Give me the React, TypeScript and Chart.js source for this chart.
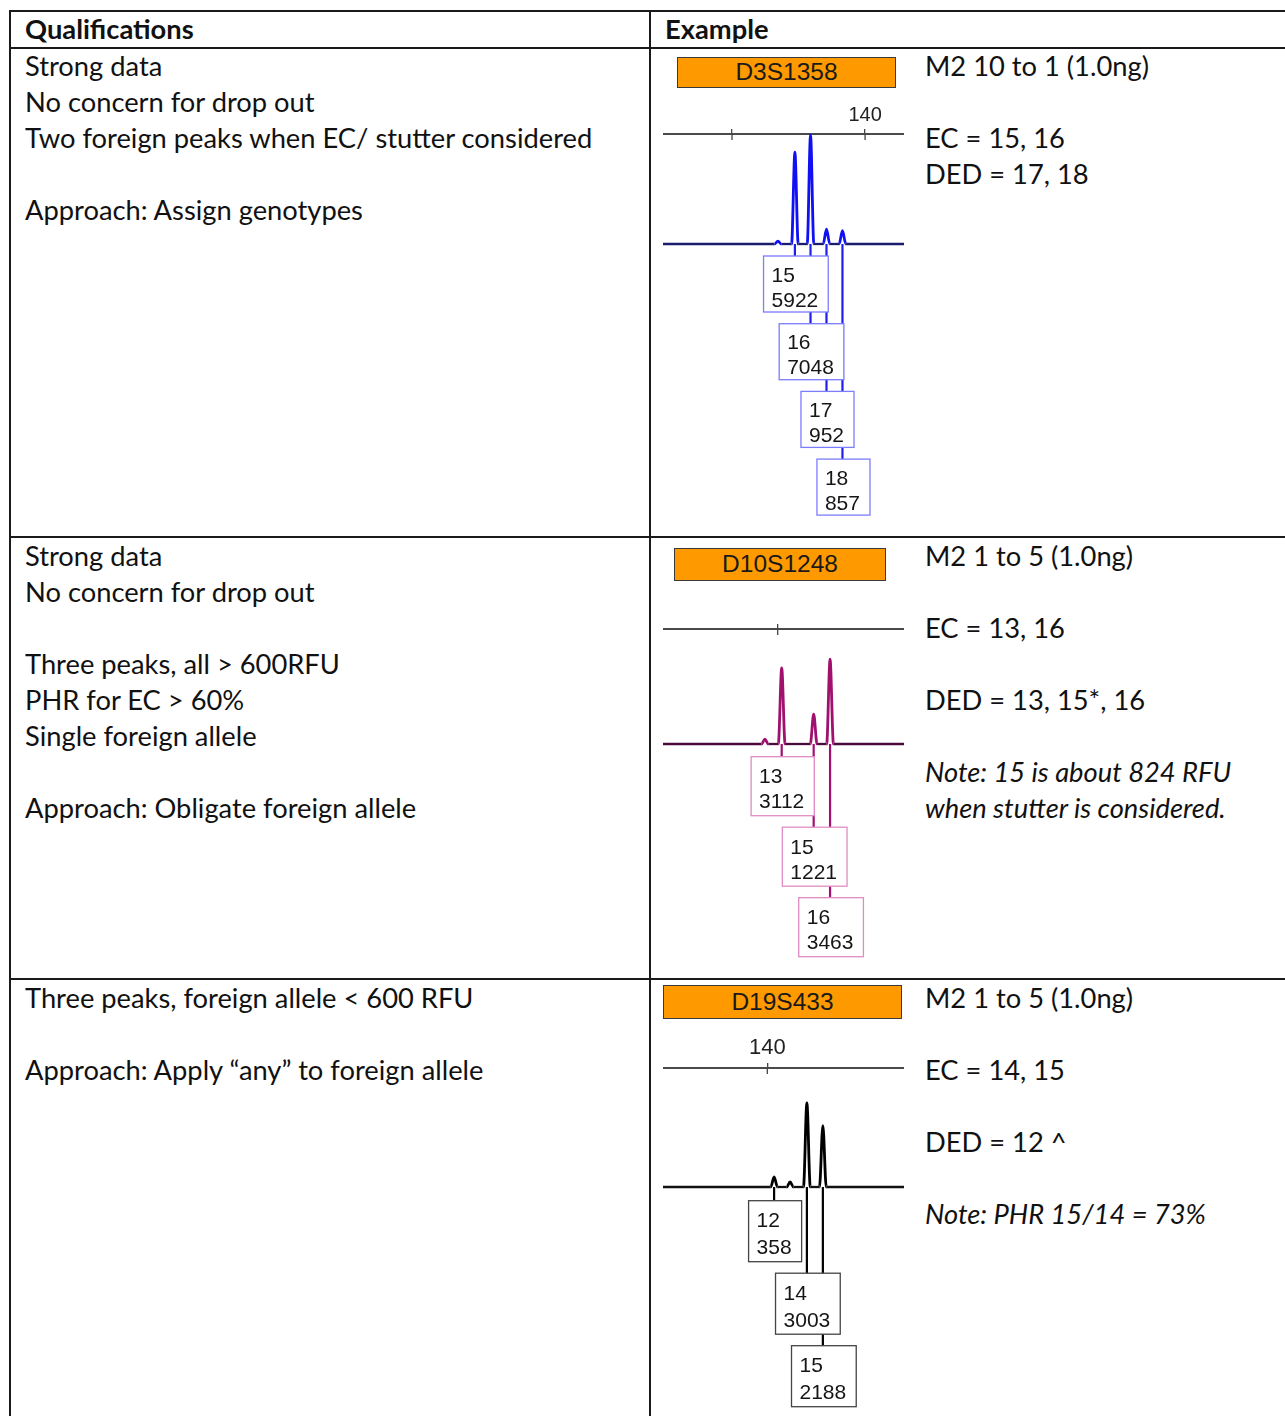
import React, { useEffect, useRef } from "react";
import { Chart, registerables } from "chart.js";

Chart.register(...registerables);

// ---------------- DATA ----------------
const headers = ["Qualifications", "Example"];

const row1Qualifications = [
  "Strong data",
  "No concern for drop out",
  "Two foreign peaks when EC/ stutter considered",
  "",
  "Approach: Assign genotypes",
];
const row1Notes = ["M2 10 to 1 (1.0ng)", "", "EC = 15, 16", "DED = 17, 18"];

const row2Qualifications = [
  "Strong data",
  "No concern for drop out",
  "",
  "Three peaks, all > 600RFU",
  "PHR for EC > 60%",
  "Single foreign allele",
  "",
  "Approach: Obligate foreign allele",
];
const row2Notes = [
  "M2 1 to 5 (1.0ng)",
  "",
  "EC = 13, 16",
  "",
  "DED = 13, 15*, 16",
  "",
  "Note: 15 is about 824 RFU",
  "when stutter is considered.",
];

const row3Qualifications = [
  "Three peaks, foreign allele < 600 RFU",
  "",
  "Approach: Apply “any” to foreign allele",
];
const row3Notes = [
  "M2 1 to 5 (1.0ng)",
  "",
  "EC = 14, 15",
  "",
  "DED = 12 ^",
  "",
  "Note: PHR 15/14 = 73%",
];

const italicLines = ["Note: 15 is about 824 RFU", "when stutter is considered.", "Note: PHR 15/14 = 73%"];

// D3S1358 (bp sizes, RFU)
const d3Alleles = ["15", "16", "17", "18"];
const d3Sizes = [118.9, 123.6, 128.4, 133.2];
const d3Heights = [5922, 7048, 952, 857];
const d3MinorSizes = [113.8];
const d3MinorHeights = [190];
const d3TickValues = [100, 140];
const d3TickLabels = ["", "140"];

// D10S1248
const d10Alleles = ["13", "15", "16"];
const d10Sizes = [101.0, 109.0, 113.1];
const d10Heights = [3112, 1221, 3463];
const d10MinorSizes = [96.8];
const d10MinorHeights = [200];
const d10TickValues = [100];
const d10TickLabels = [""];

// D19S433
const d19Alleles = ["12", "14", "15"];
const d19Sizes = [141.7, 149.9, 153.9];
const d19Heights = [358, 3003, 2188];
const d19MinorSizes = [145.7];
const d19MinorHeights = [180];
const d19TickValues = [140];
const d19TickLabels = ["140"];

// ---------------- LAYOUT / STYLE ----------------
type Panel = {
  locus: string;
  alleles: string[];
  sizes: number[];
  heights: number[];
  minorSizes: number[];
  minorHeights: number[];
  tickValues: number[];
  tickLabels: string[];
  xMin: number;
  xMax: number;
  yMax: number;
  halfWidth: number;
  peakColor: string;
  baseColor: string;
  lineColor: string;
  boxColor: string;
  tickFont: number;
  axisY: number;
  baseY: number;
  padBottom: number;
  boxOffset: number;
  boxStep: number;
  boxH: number;
  line1: number;
  line2: number;
  label: { left: number; top: number; width: number; height: number };
};

const panels: Panel[] = [
  {
    locus: "D3S1358",
    alleles: d3Alleles,
    sizes: d3Sizes,
    heights: d3Heights,
    minorSizes: d3MinorSizes,
    minorHeights: d3MinorHeights,
    tickValues: d3TickValues,
    tickLabels: d3TickLabels,
    xMin: 79.25,
    xMax: 151.7,
    yMax: 7100,
    halfWidth: 1.0,
    peakColor: "#1010f2",
    baseColor: "#1c1c6c",
    lineColor: "#1e1ef0",
    boxColor: "#7c7cff",
    tickFont: 20,
    axisY: 134,
    baseY: 244,
    padBottom: 282,
    boxOffset: 12,
    boxStep: 67.7,
    boxH: 56,
    line1: 25.7,
    line2: 50.7,
    label: { left: 677, top: 57, width: 219, height: 31 },
  },
  {
    locus: "D10S1248",
    alleles: d10Alleles,
    sizes: d10Sizes,
    heights: d10Heights,
    minorSizes: d10MinorSizes,
    minorHeights: d10MinorHeights,
    tickValues: d10TickValues,
    tickLabels: d10TickLabels,
    xMin: 71.3,
    xMax: 131.6,
    yMax: 4700,
    halfWidth: 0.85,
    peakColor: "#a0106e",
    baseColor: "#4a0a3c",
    lineColor: "#a0106e",
    boxColor: "#e08cc4",
    tickFont: 20,
    axisY: 629,
    baseY: 744,
    padBottom: 225,
    boxOffset: 12.7,
    boxStep: 70.5,
    boxH: 59,
    line1: 26.6,
    line2: 51.6,
    label: { left: 674, top: 548, width: 212, height: 33 },
  },
  {
    locus: "D19S433",
    alleles: d19Alleles,
    sizes: d19Sizes,
    heights: d19Heights,
    minorSizes: d19MinorSizes,
    minorHeights: d19MinorHeights,
    tickValues: d19TickValues,
    tickLabels: d19TickLabels,
    xMin: 113.9,
    xMax: 174.2,
    yMax: 4250,
    halfWidth: 0.85,
    peakColor: "#000000",
    baseColor: "#111111",
    lineColor: "#000000",
    boxColor: "#444444",
    tickFont: 22,
    axisY: 1068,
    baseY: 1187,
    padBottom: 226,
    boxOffset: 13.7,
    boxStep: 72.5,
    boxH: 61,
    line1: 26.7,
    line2: 53.4,
    label: { left: 663, top: 985, width: 239, height: 34 },
  },
];

const CHART_LEFT = 663;
const CHART_WIDTH = 241;
const AXIS_H = 40;
const BOX_FONT = 21;
const TEXT_FONT = "Lato, 'Open Sans', sans-serif";
const TEXT_SIZE = 27.3;
const LINE_H = 36;
const CHART_FONT = "'Liberation Sans', Arial, sans-serif";

function Electropherogram({ p }: { p: Panel }) {
  const ref = useRef<HTMLCanvasElement>(null);
  const height = AXIS_H + (p.baseY - p.axisY) + p.padBottom;

  useEffect(() => {
    const canvas = ref.current;
    if (!canvas) return;
    const peaks = [
      ...p.sizes.map((s, i) => ({ s, h: p.heights[i] })),
      ...p.minorSizes.map((s, i) => ({ s, h: p.minorHeights[i] })),
    ].sort((a, b) => a.s - b.s);
    const pts: { x: number; y: number }[] = [{ x: p.xMin, y: 0 }];
    peaks.forEach((pk) => {
      pts.push({ x: pk.s - p.halfWidth, y: 0 }, { x: pk.s, y: pk.h }, { x: pk.s + p.halfWidth, y: 0 });
    });
    pts.push({ x: p.xMax, y: 0 });

    const overlay = {
      id: "alleleCalls",
      afterDraw(chart: any) {
        const { ctx, chartArea } = chart;
        const xs = chart.scales.x;
        const ys = chart.scales.y;
        const base = ys.getPixelForValue(0);
        ctx.save();
        // lower half of the size-axis ticks
        ctx.strokeStyle = "#444";
        ctx.lineWidth = 1.3;
        xs.ticks.forEach((t: any) => {
          const x = xs.getPixelForValue(t.value);
          ctx.beginPath();
          ctx.moveTo(x, chartArea.top);
          ctx.lineTo(x, chartArea.top + 6);
          ctx.stroke();
        });
        const tops = p.alleles.map((_, i) => base + p.boxOffset + i * p.boxStep);
        const px = p.sizes.map((s) => xs.getPixelForValue(s));
        ctx.strokeStyle = p.lineColor;
        ctx.lineWidth = 2.2;
        px.forEach((x, i) => {
          ctx.beginPath();
          ctx.moveTo(x, base);
          ctx.lineTo(x, tops[i]);
          ctx.stroke();
        });
        ctx.font = `${BOX_FONT}px ${CHART_FONT}`;
        ctx.textBaseline = "alphabetic";
        ctx.textAlign = "left";
        p.alleles.forEach((a, i) => {
          const v = String(p.heights[i]);
          const w = Math.max(ctx.measureText(a).width, ctx.measureText(v).width) + 18;
          const left = px[i] - w / 2 + 1;
          ctx.fillStyle = "#ffffff";
          ctx.fillRect(left, tops[i], w, p.boxH);
          ctx.strokeStyle = p.boxColor;
          ctx.lineWidth = 1.3;
          ctx.strokeRect(left, tops[i], w, p.boxH);
          ctx.fillStyle = "#151515";
          ctx.fillText(a, left + 8, tops[i] + p.line1);
          ctx.fillText(v, left + 8, tops[i] + p.line2);
        });
        ctx.restore();
      },
    };

    const chart = new Chart(canvas, {
      type: "line",
      data: {
        datasets: [
          {
            data: pts,
            borderColor: p.peakColor,
            borderWidth: 2.8,
            pointRadius: 0,
            cubicInterpolationMode: "monotone",
            clip: false as any,
            segment: {
              borderColor: (c: any) => (c.p0.parsed.y === 0 && c.p1.parsed.y === 0 ? p.baseColor : undefined),
              borderWidth: (c: any) => (c.p0.parsed.y === 0 && c.p1.parsed.y === 0 ? 2.3 : undefined),
            },
          } as any,
        ],
      },
      options: {
        animation: false,
        responsive: false,
        maintainAspectRatio: false,
        devicePixelRatio: 1,
        events: [],
        layout: { autoPadding: false, padding: { left: 0, right: 0, top: 0, bottom: p.padBottom } } as any,
        plugins: { legend: { display: false }, tooltip: { enabled: false }, title: { display: false } },
        scales: {
          x: {
            type: "linear",
            position: "top",
            min: p.xMin,
            max: p.xMax,
            afterBuildTicks: (s: any) => {
              s.ticks = p.tickValues.map((v) => ({ value: v }));
            },
            afterFit: (s: any) => {
              s.height = AXIS_H;
            },
            ticks: {
              autoSkip: false,
              maxRotation: 0,
              padding: 2,
              color: "#222",
              font: { family: CHART_FONT, size: p.tickFont },
              callback: (_v: any, i: number) => p.tickLabels[i] ?? "",
            },
            grid: { drawOnChartArea: false, drawTicks: true, tickLength: 5, color: "#444", lineWidth: 1.3 },
            border: { display: true, color: "#4a4a4a", width: 2 },
          },
          y: { type: "linear", display: false, min: 0, max: p.yMax },
        },
      },
      plugins: [overlay],
    } as any);
    return () => chart.destroy();
  }, [p]);

  return (
    <>
      <div
        style={{
          position: "absolute",
          left: p.label.left,
          top: p.label.top,
          width: p.label.width,
          height: p.label.height,
          boxSizing: "border-box",
          background: "#ff9900",
          border: "1.5px solid #3a3a3a",
          font: `24.5px ${CHART_FONT}`,
          color: "#1a1a1a",
          textAlign: "center",
          lineHeight: `${p.label.height - 3}px`,
        }}
      >
        {p.locus}
      </div>
      <canvas
        ref={ref}
        width={CHART_WIDTH}
        height={height}
        style={{
          position: "absolute",
          left: CHART_LEFT,
          top: p.axisY - AXIS_H,
          width: CHART_WIDTH,
          height,
          display: "block",
        }}
      />
    </>
  );
}

function TextBlock({ lines, left, top, bold }: { lines: string[]; left: number; top: number; bold?: boolean }) {
  return (
    <div
      style={{
        position: "absolute",
        left,
        top,
        fontFamily: TEXT_FONT,
        fontSize: TEXT_SIZE,
        lineHeight: `${LINE_H}px`,
        fontWeight: bold ? 700 : 400,
        color: "#111",
        whiteSpace: "pre",
      }}
    >
      {lines.map((l, i) => (
        <div key={i} style={{ height: LINE_H, fontStyle: italicLines.includes(l) ? "italic" : "normal" }}>
          {l || "\u00a0"}
        </div>
      ))}
    </div>
  );
}

function Rule({ left, top, width, height }: { left: number; top: number; width: number; height: number }) {
  return <div style={{ position: "absolute", left, top, width, height, background: "#1a1a1a" }} />;
}

export default function App() {
  return (
    <div
      style={{
        position: "absolute",
        left: 0,
        top: 0,
        width: 1285,
        height: 1416,
        overflow: "hidden",
        background: "#fff",
      }}
    >
      {/* table rules */}
      <Rule left={9} top={10} width={1276} height={2} />
      <Rule left={9} top={46.5} width={1276} height={2} />
      <Rule left={9} top={535.5} width={1276} height={2} />
      <Rule left={9} top={978} width={1276} height={2} />
      <Rule left={9} top={10} width={2} height={1406} />
      <Rule left={649} top={10} width={2} height={1406} />

      <TextBlock lines={[headers[0]]} left={25} top={10.5} bold />
      <TextBlock lines={[headers[1]]} left={665} top={10.5} bold />

      <TextBlock lines={row1Qualifications} left={25} top={48} />
      <TextBlock lines={row1Notes} left={925} top={48} />
      <TextBlock lines={row2Qualifications} left={25} top={538} />
      <TextBlock lines={row2Notes} left={925} top={538} />
      <TextBlock lines={row3Qualifications} left={25} top={980} />
      <TextBlock lines={row3Notes} left={925} top={980} />

      {panels.map((p) => (
        <Electropherogram key={p.locus} p={p} />
      ))}
    </div>
  );
}
